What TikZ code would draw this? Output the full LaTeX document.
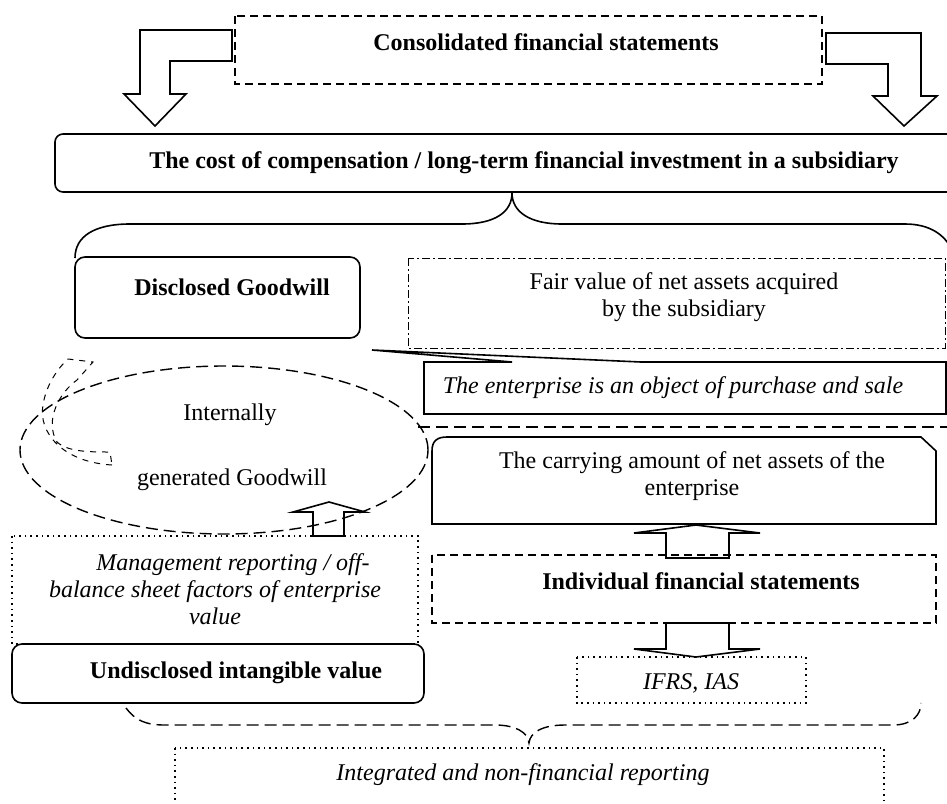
\documentclass[tikz,border=0pt]{standalone}
\usepackage{fontspec}
\setmainfont{Liberation Serif}
\newcommand{\diagsize}{\fontsize{12}{13.5}\selectfont}
\begin{document}
\begin{tikzpicture}[x=0.5pt,y=-0.5pt,
	solidbox/.style={draw,line width=0.8pt},
	dashbox/.style={draw,line width=0.7pt,dash pattern=on 4pt off 2.5pt},
	dotbox/.style={draw,line width=0.8pt,dotted},
	dashdotbox/.style={draw,line width=0.5pt,dash pattern=on 4pt off 1.5pt on 1pt off 1.5pt},
	longdash/.style={draw,line width=0.7pt,dash pattern=on 6pt off 3pt},
	blockarrow/.style={draw,line width=0.8pt,line join=miter},
	txt/.style={font=\diagsize,align=center,inner sep=0pt},
	boldtxt/.style={txt,font=\diagsize\bfseries},
	ittxt/.style={txt,font=\diagsize\itshape}]
	\useasboundingbox (0,0) rectangle (947,803);
	% frames
		\draw[dashbox] (235,16) rectangle (822,84);
		\draw[solidbox,rounded corners=4pt] (55,134) rectangle (960,192);
		\draw[solidbox,rounded corners=5pt] (75,257) rectangle (360,338);
		\draw[dashdotbox] (408,258) rectangle (945,348);
		\draw[solidbox] (424,414) -- (424,362) -- (512,362) -- (372,350) -- (641,362) -- (946,362) -- (946,414) -- cycle;
		\draw[longdash] (418,427) -- (950,427);
		\draw[solidbox] (432,524) -- (432,451) .. controls (432,441) and (437,437) .. (447,437) -- (921,437) -- (936,451) -- (936,524) -- cycle;
		\draw[dashbox] (432,555) rectangle (936,623);
		\draw[dotbox] (577,657) rectangle (806,703);
		\draw[dotbox] (12,536) rectangle (418,644);
		\draw[solidbox,rounded corners=5pt] (12,644) rectangle (424,703);
		\draw[dotbox] (175,748) rectangle (884,815);
		\draw[longdash] (224,450) ellipse [x radius=102pt,y radius=42pt];
	% braces
		\draw[solidbox] (75,258) .. controls (75,236) and (95,224) .. (130,224) -- (462,224) .. controls (495,224) and (512,212) .. (512,193)
			.. controls (512,212) and (530,224) .. (562,224) -- (905,224) .. controls (930,224) and (945,235) .. (952,250);
		\draw[longdash] (126,708) .. controls (135,720) and (145,725) .. (165,725) -- (495,725) .. controls (515,725) and (528,732) .. (529,743)
			.. controls (530,732) and (543,725) .. (565,725) -- (893,725) .. controls (912,725) and (921,715) .. (921,703);
	% block arrows
		\draw[blockarrow,fill=white] (232,30) -- (140,30) -- (140,94) -- (124,94) -- (155,126) -- (186,94) -- (170,94) -- (170,61) -- (232,61) -- cycle;
		\draw[blockarrow,fill=white] (826,33) -- (921,33) -- (921,96) -- (937,96) -- (904,126) -- (873,96) -- (888,96) -- (888,64) -- (826,64) -- cycle;
		\draw[blockarrow] (666,558) -- (666,533) -- (634,533) -- (696,525) -- (760,533) -- (729,533) -- (729,558) -- cycle;
		\draw[blockarrow] (666,623) -- (666,649) -- (634,649) -- (696,657) -- (760,649) -- (729,649) -- (729,623) -- cycle;
		\draw[blockarrow] (313,536) -- (313,512) -- (293,512) -- (329,502) -- (365,512) -- (344,512) -- (344,536) -- cycle;
		\draw[line width=0.5pt,dashed] (112,465) .. controls (62,462) and (38,432) .. (43,405) .. controls (46,385) and (58,368) .. (68,359)
			-- (93,362) -- (77,380) .. controls (60,392) and (44,420) .. (57,442) .. controls (68,452) and (90,452) .. (110,452) -- cycle;
	% texts
		\node[boldtxt] (cfs) at (546,42) {Consolidated financial statements};
		\node[boldtxt] (cost) at (524,163) {The cost of compensation / long-term financial investment in a subsidiary};
		\node[boldtxt] (dgw) at (232,287) {Disclosed Goodwill};
		\node[txt] (fair) at (684,297) {Fair value of net assets acquired\\by the subsidiary};
		\node[ittxt] (sale) at (673,388) {The enterprise is an object of purchase and sale};
		\node[txt] (intgw) at (230,415) {Internally};
		\node[txt] (gengw) at (232,480) {generated Goodwill};
		\node[txt] (carry) at (692,476) {The carrying amount of net assets of the\\enterprise};
		\node[ittxt] (mgmt) at (215,589) {\hspace*{1.5em}Management reporting / off-\\balance sheet factors of enterprise\\value};
		\node[boldtxt] (ifs) at (701,581) {Individual financial statements};
		\node[ittxt] (ifrs) at (691,683) {IFRS, IAS};
		\node[boldtxt] (uiv) at (236,673) {Undisclosed intangible value};
		\node[ittxt] (intrep) at (523,775) {Integrated and non-financial reporting};
\end{tikzpicture}
\end{document}
